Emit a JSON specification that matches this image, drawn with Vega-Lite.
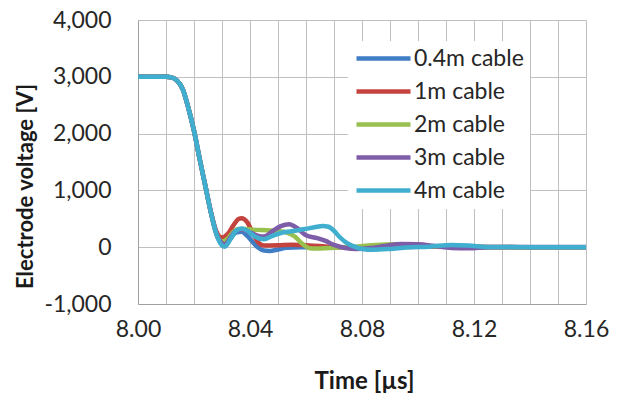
{
  "$schema": "https://vega.github.io/schema/vega-lite/v6.json",
  "width": 448,
  "height": 284,
  "autosize": "none",
  "padding": {"left": 138, "top": 20, "right": 31, "bottom": 92},
  "background": "white",
  "config": {
    "view": {"stroke": null},
    "font": "Lato"
  },
  "data": {
    "values": [
      {"s": "0.4m cable", "t": 8.000, "v": 3000}, {"s": "0.4m cable", "t": 8.005, "v": 3000}, {"s": "0.4m cable", "t": 8.010, "v": 3000}, {"s": "0.4m cable", "t": 8.012, "v": 2990}, {"s": "0.4m cable", "t": 8.014, "v": 2930}, {"s": "0.4m cable", "t": 8.016, "v": 2780}, {"s": "0.4m cable", "t": 8.018, "v": 2450}, {"s": "0.4m cable", "t": 8.020, "v": 2050}, {"s": "0.4m cable", "t": 8.022, "v": 1560}, {"s": "0.4m cable", "t": 8.024, "v": 1090}, {"s": "0.4m cable", "t": 8.026, "v": 620}, {"s": "0.4m cable", "t": 8.028, "v": 230},
      {"s": "0.4m cable", "t": 8.030, "v": 60}, {"s": "0.4m cable", "t": 8.031, "v": 40}, {"s": "0.4m cable", "t": 8.033, "v": 150}, {"s": "0.4m cable", "t": 8.035, "v": 260}, {"s": "0.4m cable", "t": 8.037, "v": 270}, {"s": "0.4m cable", "t": 8.039, "v": 200}, {"s": "0.4m cable", "t": 8.041, "v": 90}, {"s": "0.4m cable", "t": 8.043, "v": -10}, {"s": "0.4m cable", "t": 8.045, "v": -60}, {"s": "0.4m cable", "t": 8.047, "v": -65}, {"s": "0.4m cable", "t": 8.050, "v": -40}, {"s": "0.4m cable", "t": 8.053, "v": -10}, {"s": "0.4m cable", "t": 8.058, "v": 0}, {"s": "0.4m cable", "t": 8.070, "v": 0}, {"s": "0.4m cable", "t": 8.080, "v": 5}, {"s": "0.4m cable", "t": 8.100, "v": 10}, {"s": "0.4m cable", "t": 8.120, "v": 5}, {"s": "0.4m cable", "t": 8.140, "v": 0}, {"s": "0.4m cable", "t": 8.160, "v": 0},

      {"s": "1m cable", "t": 8.000, "v": 3000}, {"s": "1m cable", "t": 8.005, "v": 3000}, {"s": "1m cable", "t": 8.010, "v": 3000}, {"s": "1m cable", "t": 8.012, "v": 2990}, {"s": "1m cable", "t": 8.014, "v": 2930}, {"s": "1m cable", "t": 8.016, "v": 2780}, {"s": "1m cable", "t": 8.018, "v": 2450}, {"s": "1m cable", "t": 8.020, "v": 2050}, {"s": "1m cable", "t": 8.022, "v": 1560}, {"s": "1m cable", "t": 8.024, "v": 1090}, {"s": "1m cable", "t": 8.026, "v": 630}, {"s": "1m cable", "t": 8.028, "v": 280},
      {"s": "1m cable", "t": 8.030, "v": 170}, {"s": "1m cable", "t": 8.032, "v": 230}, {"s": "1m cable", "t": 8.034, "v": 380}, {"s": "1m cable", "t": 8.036, "v": 500}, {"s": "1m cable", "t": 8.037, "v": 510}, {"s": "1m cable", "t": 8.039, "v": 440}, {"s": "1m cable", "t": 8.041, "v": 250}, {"s": "1m cable", "t": 8.043, "v": 80}, {"s": "1m cable", "t": 8.045, "v": 30}, {"s": "1m cable", "t": 8.050, "v": 35}, {"s": "1m cable", "t": 8.055, "v": 45}, {"s": "1m cable", "t": 8.060, "v": 35}, {"s": "1m cable", "t": 8.065, "v": 20}, {"s": "1m cable", "t": 8.070, "v": 0}, {"s": "1m cable", "t": 8.080, "v": 0}, {"s": "1m cable", "t": 8.100, "v": 10}, {"s": "1m cable", "t": 8.120, "v": 10}, {"s": "1m cable", "t": 8.140, "v": 0}, {"s": "1m cable", "t": 8.160, "v": 0},

      {"s": "2m cable", "t": 8.000, "v": 3000}, {"s": "2m cable", "t": 8.005, "v": 3000}, {"s": "2m cable", "t": 8.010, "v": 3000}, {"s": "2m cable", "t": 8.012, "v": 2990}, {"s": "2m cable", "t": 8.014, "v": 2930}, {"s": "2m cable", "t": 8.016, "v": 2780}, {"s": "2m cable", "t": 8.018, "v": 2450}, {"s": "2m cable", "t": 8.020, "v": 2050}, {"s": "2m cable", "t": 8.022, "v": 1560}, {"s": "2m cable", "t": 8.024, "v": 1090}, {"s": "2m cable", "t": 8.026, "v": 620}, {"s": "2m cable", "t": 8.028, "v": 240},
      {"s": "2m cable", "t": 8.030, "v": 100}, {"s": "2m cable", "t": 8.032, "v": 150}, {"s": "2m cable", "t": 8.034, "v": 270}, {"s": "2m cable", "t": 8.036, "v": 320}, {"s": "2m cable", "t": 8.038, "v": 320}, {"s": "2m cable", "t": 8.042, "v": 305}, {"s": "2m cable", "t": 8.046, "v": 300}, {"s": "2m cable", "t": 8.050, "v": 285}, {"s": "2m cable", "t": 8.053, "v": 260}, {"s": "2m cable", "t": 8.056, "v": 190}, {"s": "2m cable", "t": 8.058, "v": 90}, {"s": "2m cable", "t": 8.060, "v": 10}, {"s": "2m cable", "t": 8.062, "v": -25}, {"s": "2m cable", "t": 8.066, "v": -20}, {"s": "2m cable", "t": 8.072, "v": -5}, {"s": "2m cable", "t": 8.078, "v": 10}, {"s": "2m cable", "t": 8.085, "v": 40}, {"s": "2m cable", "t": 8.092, "v": 50}, {"s": "2m cable", "t": 8.100, "v": 30}, {"s": "2m cable", "t": 8.110, "v": 10}, {"s": "2m cable", "t": 8.120, "v": 0}, {"s": "2m cable", "t": 8.140, "v": 0}, {"s": "2m cable", "t": 8.160, "v": 0},

      {"s": "3m cable", "t": 8.000, "v": 3000}, {"s": "3m cable", "t": 8.005, "v": 3000}, {"s": "3m cable", "t": 8.010, "v": 3000}, {"s": "3m cable", "t": 8.012, "v": 2990}, {"s": "3m cable", "t": 8.014, "v": 2930}, {"s": "3m cable", "t": 8.016, "v": 2780}, {"s": "3m cable", "t": 8.018, "v": 2450}, {"s": "3m cable", "t": 8.020, "v": 2050}, {"s": "3m cable", "t": 8.022, "v": 1560}, {"s": "3m cable", "t": 8.024, "v": 1090}, {"s": "3m cable", "t": 8.026, "v": 620}, {"s": "3m cable", "t": 8.028, "v": 240},
      {"s": "3m cable", "t": 8.030, "v": 70}, {"s": "3m cable", "t": 8.031, "v": 50}, {"s": "3m cable", "t": 8.033, "v": 170}, {"s": "3m cable", "t": 8.035, "v": 290}, {"s": "3m cable", "t": 8.037, "v": 310}, {"s": "3m cable", "t": 8.040, "v": 260}, {"s": "3m cable", "t": 8.043, "v": 200}, {"s": "3m cable", "t": 8.045, "v": 190}, {"s": "3m cable", "t": 8.048, "v": 280}, {"s": "3m cable", "t": 8.051, "v": 370}, {"s": "3m cable", "t": 8.054, "v": 405}, {"s": "3m cable", "t": 8.057, "v": 330}, {"s": "3m cable", "t": 8.060, "v": 210}, {"s": "3m cable", "t": 8.064, "v": 160}, {"s": "3m cable", "t": 8.067, "v": 110}, {"s": "3m cable", "t": 8.070, "v": 40}, {"s": "3m cable", "t": 8.074, "v": -15}, {"s": "3m cable", "t": 8.078, "v": -30}, {"s": "3m cable", "t": 8.083, "v": -15}, {"s": "3m cable", "t": 8.088, "v": 20}, {"s": "3m cable", "t": 8.094, "v": 55}, {"s": "3m cable", "t": 8.100, "v": 50}, {"s": "3m cable", "t": 8.106, "v": 20}, {"s": "3m cable", "t": 8.112, "v": -15}, {"s": "3m cable", "t": 8.118, "v": -20}, {"s": "3m cable", "t": 8.125, "v": 0}, {"s": "3m cable", "t": 8.140, "v": 5}, {"s": "3m cable", "t": 8.160, "v": 5},

      {"s": "4m cable", "t": 8.000, "v": 3000}, {"s": "4m cable", "t": 8.005, "v": 3000}, {"s": "4m cable", "t": 8.010, "v": 3000}, {"s": "4m cable", "t": 8.012, "v": 2990}, {"s": "4m cable", "t": 8.014, "v": 2930}, {"s": "4m cable", "t": 8.016, "v": 2780}, {"s": "4m cable", "t": 8.018, "v": 2450}, {"s": "4m cable", "t": 8.020, "v": 2050}, {"s": "4m cable", "t": 8.022, "v": 1560}, {"s": "4m cable", "t": 8.024, "v": 1090}, {"s": "4m cable", "t": 8.026, "v": 620}, {"s": "4m cable", "t": 8.028, "v": 230},
      {"s": "4m cable", "t": 8.030, "v": 30}, {"s": "4m cable", "t": 8.031, "v": 10}, {"s": "4m cable", "t": 8.033, "v": 140}, {"s": "4m cable", "t": 8.035, "v": 290}, {"s": "4m cable", "t": 8.037, "v": 330}, {"s": "4m cable", "t": 8.039, "v": 290}, {"s": "4m cable", "t": 8.042, "v": 180}, {"s": "4m cable", "t": 8.045, "v": 140}, {"s": "4m cable", "t": 8.048, "v": 200}, {"s": "4m cable", "t": 8.051, "v": 250}, {"s": "4m cable", "t": 8.055, "v": 280}, {"s": "4m cable", "t": 8.059, "v": 315}, {"s": "4m cable", "t": 8.063, "v": 350}, {"s": "4m cable", "t": 8.066, "v": 375}, {"s": "4m cable", "t": 8.068, "v": 360}, {"s": "4m cable", "t": 8.070, "v": 290}, {"s": "4m cable", "t": 8.072, "v": 180}, {"s": "4m cable", "t": 8.075, "v": 60}, {"s": "4m cable", "t": 8.077, "v": 15}, {"s": "4m cable", "t": 8.080, "v": -30}, {"s": "4m cable", "t": 8.084, "v": -45}, {"s": "4m cable", "t": 8.090, "v": -30}, {"s": "4m cable", "t": 8.096, "v": -5}, {"s": "4m cable", "t": 8.104, "v": 10}, {"s": "4m cable", "t": 8.112, "v": 40}, {"s": "4m cable", "t": 8.118, "v": 30}, {"s": "4m cable", "t": 8.125, "v": 5}, {"s": "4m cable", "t": 8.140, "v": 0}, {"s": "4m cable", "t": 8.160, "v": 0}
    ]
  },
  "mark": {"type": "line", "interpolate": "monotone", "strokeWidth": 4.5, "clip": true},
  "encoding": {
    "x": {
      "field": "t",
      "type": "quantitative",
      "scale": {"domain": [8.0, 8.16], "nice": false, "zero": false},
      "axis": {
        "title": "Time [µs]",
        "values": [8.00, 8.01, 8.02, 8.03, 8.04, 8.05, 8.06, 8.07, 8.08, 8.09, 8.10, 8.11, 8.12, 8.13, 8.14, 8.15, 8.16],
        "labelExpr": "abs(round(datum.value*100)) % 4 == 0 ? format(datum.value, '.2f') : ''",
        "labelFlush": false,
        "labelOverlap": false,
        "labelBound": false,
        "ticks": false,
        "tickSize": 0,
        "labelPadding": 14,
        "labelFontSize": 23,
        "labelColor": "#262626",
        "labelFont": "Lato",
        "grid": true,
        "gridColor": "#c0c0c0",
        "gridWidth": 1,
        "domainColor": "#a0a0a0",
        "domainWidth": 1,
        "titleFont": "Lato",
        "titleFontSize": 24,
        "titleFontWeight": "bold",
        "titleColor": "#1a1a1a",
        "titleBaseline": "middle",
        "titleX": 226,
        "titleY": 77
      }
    },
    "y": {
      "field": "v",
      "type": "quantitative",
      "scale": {"domain": [-1000, 4000], "nice": false, "zero": false},
      "axis": {
        "title": "Electrode voltage [V]",
        "values": [-1000, 0, 1000, 2000, 3000, 4000],
        "labelExpr": "replace(format(datum.value, ',.0f'), '\u2212', '-')",
        "ticks": false,
        "tickSize": 0,
        "labelPadding": 27,
        "labelFontSize": 23,
        "labelColor": "#262626",
        "labelFont": "Lato",
        "labelOverlap": false,
        "labelBound": false,
        "labelFlush": false,
        "grid": true,
        "gridColor": "#c0c0c0",
        "gridWidth": 1,
        "domainColor": "#a0a0a0",
        "domainWidth": 1,
        "titleFont": "Lato",
        "titleFontSize": 22,
        "titleFontWeight": "bold",
        "titleColor": "#1a1a1a",
        "titleAngle": -90,
        "titleAlign": "center",
        "titleBaseline": "middle",
        "titleX": -113,
        "titleY": 166
      }
    },
    "color": {
      "field": "s",
      "type": "nominal",
      "scale": {
        "domain": ["0.4m cable", "1m cable", "2m cable", "3m cable", "4m cable"],
        "range": ["#3F7DC4", "#C4433F", "#98C04E", "#7E5DA8", "#40AFCF"]
      },
      "legend": {
        "title": null,
        "orient": "none",
        "legendX": 210,
        "legendY": 21,
        "padding": 6,
        "fillColor": "white",
        "strokeColor": null,
        "symbolType": "M-1,0H5",
        "symbolSize": 324,
        "symbolStrokeWidth": 4.5,
        "labelOffset": 37,
        "labelFont": "Lato",
        "labelFontSize": 23,
        "labelColor": "#262626",
        "rowPadding": 9,
        "labelLimit": 300
      }
    }
  }
}
